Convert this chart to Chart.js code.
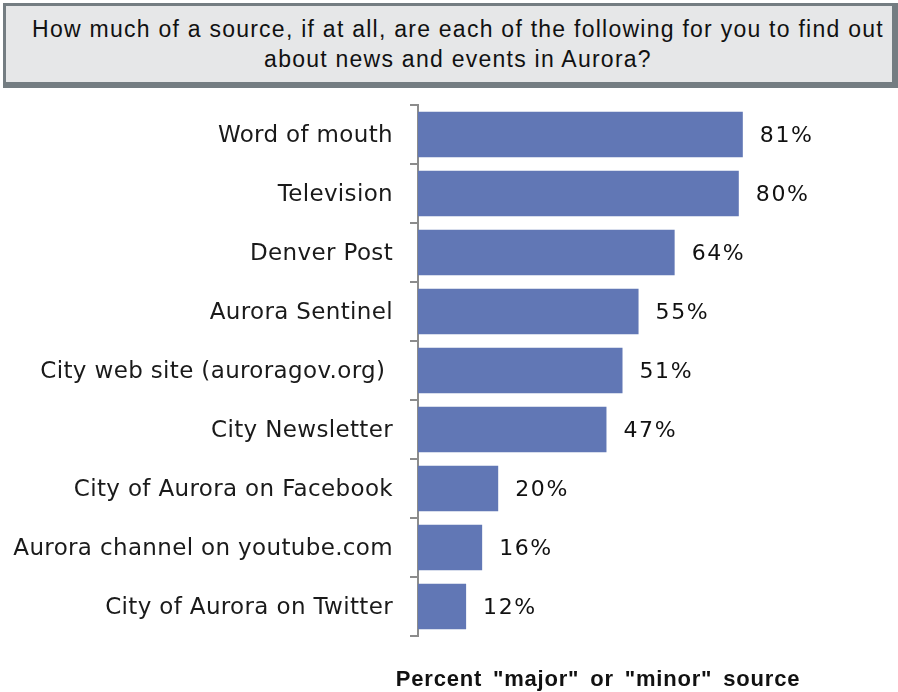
<!DOCTYPE html>
<html>
<head>
<meta charset="utf-8">
<script src="https://cdn.jsdelivr.net/npm/chart.js@4"></script>
<style>
  body { margin: 0; background: #fff; width: 898px; height: 692px; position: relative; overflow: hidden; }
  #title {
    position: absolute; left: 3px; top: 3px; width: 868px; height: 68px;
    background: #e6e7e8; border: 3px solid #747d82; border-right-width: 6px; border-bottom-width: 6px;
    font-family: "Liberation Sans", Arial, sans-serif; font-size: 23px; color: #111;
    text-align: center; line-height: 30px; padding-top: 8px; padding-left: 18px; letter-spacing: 1.25px;
  }
  #xlabel {
    position: absolute; left: 360px; top: 666px; width: 476px; text-align: center;
    font-family: "Liberation Sans", Arial, sans-serif; font-weight: bold; font-size: 22px; color: #111;
    letter-spacing: 0.8px; word-spacing: 4px;
  }
  #wrap { position: absolute; left: 0; top: 0; width: 898px; height: 692px; }
</style>
</head>
<body>
<div id="wrap"><canvas id="myChart" width="898" height="692"></canvas></div>
<div id="title">How much of a source, if at all, are each of the following for you to find out<br>about news and events in Aurora?</div>
<div id="xlabel">Percent "major" or "minor" source</div>
<script>
// sources and share who say "major" or "minor"
let labels = ['Word of mouth', 'Television', 'Denver Post', 'Aurora Sentinel', 'City web site (auroragov.org) ',
  'City Newsletter', 'City of Aurora on Facebook', 'Aurora channel on youtube.com', 'City of Aurora on Twitter'];
let values = [81, 80, 64, 55, 51, 47, 20, 16, 12];

// a little extra tracking for the category labels
let tracking = {
  id: 'tracking',
  beforeDraw(chart) { chart.ctx.letterSpacing = '0.35px'; }
};

// value labels at the bar ends
let valueLabels = {
  id: 'valueLabels',
  afterDatasetsDraw(chart) {
    let ctx = chart.ctx;
    let meta = chart.getDatasetMeta(0);
    ctx.save();
    ctx.font = '22px "DejaVu Sans", Verdana, sans-serif';
    ctx.fillStyle = '#111';
    ctx.textAlign = 'left';
    ctx.textBaseline = 'middle';
    ctx.letterSpacing = '1.6px';
    meta.data.forEach(function(bar, i) {
      ctx.fillText(values[i] + '%', bar.x + 17, bar.y + 2);
    });
    ctx.restore();
  }
};

let chart = new Chart(document.getElementById('myChart').getContext('2d'), {
  type: 'bar',
  data: {
    labels: labels,
    datasets: [{
      data: values,
      backgroundColor: '#6177b5',
      barPercentage: 0.77,
      categoryPercentage: 1
    }]
  },
  options: {
    indexAxis: 'y',
    responsive: false,
    animation: false,
    layout: { padding: { top: 105, bottom: 56, right: 79, left: 0 } },
    plugins: { legend: { display: false }, tooltip: { enabled: false } },
    scales: {
      x: { display: false, min: 0, max: 100 },
      y: {
        afterFit(scale) { scale.width = 418; },
        border: { display: true, color: '#8c8c8c', width: 2 },
        grid: { offset: true, drawOnChartArea: false, tickLength: 8, color: '#8c8c8c', lineWidth: 2 },
        ticks: {
          padding: 17,
          labelOffset: 2,
          color: '#1a1a1a',
          font: { family: '"DejaVu Sans", Verdana, sans-serif', size: 23 }
        }
      }
    }
  },
  plugins: [tracking, valueLabels]
});
</script>
</body>
</html>
